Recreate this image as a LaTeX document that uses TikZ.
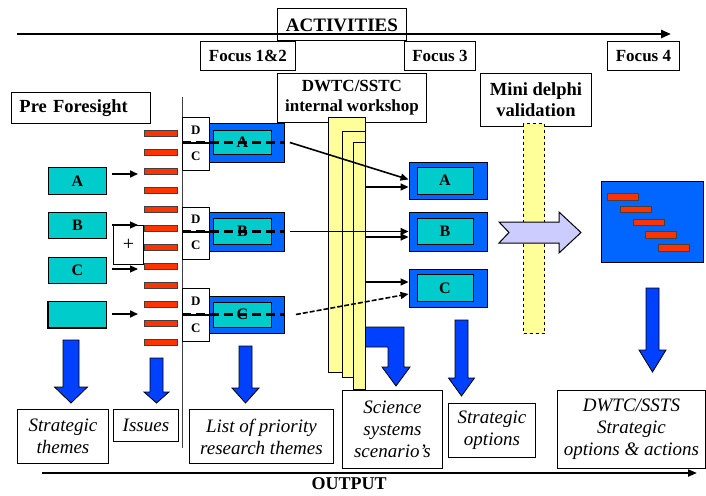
\documentclass[tikz,border=0pt]{standalone}
\usepackage{fontspec}
\setmainfont{Liberation Serif}
\usetikzlibrary{arrows.meta,positioning}

\definecolor{frameblue}{HTML}{0066FF}
\definecolor{arrowblue}{HTML}{0040FF}
\definecolor{themecyan}{HTML}{00CCCC}
\definecolor{issuered}{HTML}{FF3300}
\definecolor{paleyellow}{HTML}{FFFF99}
\definecolor{lavender}{HTML}{CCCCFF}

\tikzset{
  lbl/.style={draw, fill=white, line width=0.9pt, inner sep=0pt, align=center,
    font=\fontsize{17}{20}\selectfont\bfseries},
  outbox/.style={draw, fill=white, line width=0.9pt, inner sep=0pt, align=center,
    font=\fontsize{19}{22}\selectfont\itshape},
  theme/.style={draw, fill=themecyan, line width=0.9pt, inner sep=0pt,
    font=\fontsize{16}{18}\selectfont\bfseries},
  frame/.style={draw, fill=frameblue, line width=0.9pt, inner sep=0pt},
  issue/.style={draw=black!75, fill=issuered, line width=0.6pt, inner sep=0pt,
    minimum width=33pt, minimum height=6pt},
  dcbox/.style={draw, fill=white, line width=0.8pt, inner sep=0pt, minimum width=27pt,
    font=\fontsize{13}{14}\selectfont\bfseries},
  page/.style={draw, fill=paleyellow, line width=0.6pt, inner sep=0pt},
  conn/.style={-{Triangle[length=8pt,width=7pt]}, line width=1.6pt},
  thinconn/.style={-{Triangle[length=8pt,width=7pt]}, line width=1.1pt},
  strike/.style={line width=3pt, dash pattern=on 9pt off 5pt},
}

% block arrow pointing down: centre x, top, head start, tip, half shaft, half head
\newcommand{\dnarrow}[6]{%
  \filldraw[fill=arrowblue, line width=0.8pt]
    (#1-#5,#2) -- (#1+#5,#2) -- (#1+#5,#3) -- (#1+#6,#3) -- (#1,#4)
    -- (#1-#6,#3) -- (#1-#5,#3) -- cycle;}

\begin{document}
\begin{tikzpicture}[x=1pt, y=-1pt]
  \useasboundingbox (0,0) rectangle (706,495);

  % Activities axis
  \node[lbl, minimum width=129pt, minimum height=32pt, anchor=north west,
    text height=15pt, text depth=0pt,
    font=\fontsize{19}{21}\selectfont\bfseries] (act) at (277,8) {ACTIVITIES};
  \coordinate (actL) at (17,34);
  \coordinate (actR) at (671,34);
  \draw[-{Triangle[length=10pt,width=8pt]}, line width=2.5pt] (actL) -- (actR);

  % Focus labels
  \node[lbl, minimum width=95pt, minimum height=29pt, anchor=north west] (f12) at (200,41) {Focus 1\&2};
  \node[lbl, minimum width=71pt, minimum height=29pt, anchor=north west] (f3) at (404,41) {Focus 3};
  \node[lbl, minimum width=72pt, minimum height=29pt, anchor=north west] (f4) at (607,41) {Focus 4};

  % Stage labels
  \node[lbl, text width=123pt, inner xsep=8pt, align=left, minimum height=31pt,
    font=\fontsize{18.5}{21}\selectfont\bfseries, anchor=north west] (pre) at (11,92) {Pre Foresight};
  \node[lbl, minimum width=149pt, minimum height=49pt, anchor=north west] (ws) at (277,73)
    {DWTC/SSTC\\internal workshop};
  \node[lbl, minimum width=111pt, minimum height=53pt, anchor=north west,
    font=\fontsize{18.5}{21}\selectfont\bfseries] (md) at (480,73)
    {Mini delphi\\validation};

  % Strategic themes
  \node[theme, minimum width=58pt, minimum height=27pt, anchor=north west] (tA) at (48,167) {A};
  \node[theme, minimum width=58pt, minimum height=26pt, anchor=north west] (tB) at (48,212) {B};
  \node[theme, minimum width=58pt, minimum height=26pt, anchor=north west] (tC) at (48,257) {C};
  \node[theme, minimum width=58pt, minimum height=26pt, anchor=north west] (tD) at (48,301) {};
  \draw[line width=2pt] (tD.north west) -- (tD.south west) -- (tD.south east);

  % Issues
  \foreach \y [count=\i] in {133,152,171,190,209,228,247,266,285,304,323,342}
    \node[issue] (i\i) at (160.5,\y) {};

  % themes feeding issues
  \node[draw, line width=0.8pt, minimum width=30pt, minimum height=39pt, anchor=north west,
    font=\fontsize{20}{20}\selectfont] (plus) at (113,225) {+};
  \coordinate (inA) at (138,174);
  \coordinate (inB) at (138,225);
  \coordinate (inC) at (138,269);
  \coordinate (inD) at (138,314);
  \draw[conn] ([xshift=5pt]tA.east |- inA) -- (inA);
  \draw[thinconn] ([xshift=5pt]tB.east |- inB) -- (inB);
  \draw[thinconn] ([xshift=5pt]tC.east |- inC) -- (inC);
  \draw[conn] ([xshift=5pt]tD.east |- inD) -- (inD);

  % Divider
  \coordinate (vtop) at (182,97);
  \coordinate (vbot) at (182,448);
  \draw[line width=1pt, black!75] (vtop) -- (vbot);

  % D/C tags
  \node[dcbox, minimum height=25pt, anchor=north west] (dA) at (182,117) {D};
  \node[dcbox, minimum height=27pt, below=0pt of dA] (cA) {C};
  \node[dcbox, minimum height=24pt, anchor=north west] (dB) at (182,207) {D};
  \node[dcbox, minimum height=27pt, below=0pt of dB] (cB) {C};
  \node[dcbox, minimum height=26pt, anchor=north west] (dC) at (182,288) {D};
  \node[dcbox, minimum height=26pt, below=0pt of dC] (cC) {C};

  % Priority research themes
  \node[frame, minimum width=75pt, minimum height=39pt, anchor=west] (lA) at (209,142.5) {};
  \node[theme, minimum width=58pt, minimum height=24pt] (lAi) at ([xshift=-4.5pt]lA.center) {A};
  \node[frame, minimum width=75pt, minimum height=39pt, anchor=west] (lB) at (209,231.5) {};
  \node[theme, minimum width=58pt, minimum height=26pt] (lBi) at ([xshift=-4.5pt]lB.center) {B};
  \node[frame, minimum width=75pt, minimum height=37pt, anchor=west] (lC) at (209,314.5) {};
  \node[theme, minimum width=58pt, minimum height=25pt] (lCi) at ([xshift=-4.5pt]lC.center) {C};
  \draw[strike] (vtop |- lA.west) -- (lA.east);
  \draw[strike] (vtop |- lB.west) -- (lB.east);
  \draw[strike] (vtop |- lC.west) -- (lC.east);

  % Scenario arrow (behind the workshop pages)
  \filldraw[fill=arrowblue, line width=0.8pt]
    (360,327) -- (404,327) -- (404,367) -- (410,367) -- (396,386)
    -- (382,367) -- (388,367) -- (388,347) -- (360,347) -- cycle;

  % Workshop pages
  \node[page, minimum width=37pt, minimum height=255pt, anchor=north west] (ws1) at (328,117) {};
  \node[page, minimum width=23pt, minimum height=246pt, anchor=north west] (ws2) at (342,131) {};
  \node[page, minimum width=12pt, minimum height=247pt, anchor=north west] (ws3) at (353,142) {};

  % Strategic options
  \node[frame, minimum width=78pt, minimum height=37pt] (rA) at (448,180.5) {};
  \node[theme, minimum width=56pt, minimum height=27pt] (rAi) at ([xshift=-3pt]rA.center) {A};
  \node[frame, minimum width=78pt, minimum height=39pt] (rB) at (448,231.5) {};
  \node[theme, minimum width=56pt, minimum height=26pt] (rBi) at ([xshift=-3pt]rB.center) {B};
  \node[frame, minimum width=78pt, minimum height=38pt] (rC) at (448,288) {};
  \node[theme, minimum width=56pt, minimum height=27pt] (rCi) at ([xshift=-3pt]rC.center) {C};

  \coordinate (rAin) at ([yshift=-6.5pt]rA.west);
  \coordinate (rBin) at ([yshift=-5.5pt]rB.west);
  \coordinate (rCup) at ([yshift=6pt]rC.west);
  \coordinate (rClo) at ([yshift=-6pt]rC.west);
  \draw[conn] ([xshift=5pt]lA.east) -- ([yshift=1pt]rA.west);
  \draw[conn] (ws3.east |- rAin) -- (rAin);
  \draw[conn] ([xshift=5pt]lB.east) -- (rB.west);
  \draw[conn] (ws3.east |- rBin) -- (rBin);
  \draw[conn] (ws3.east |- rCup) -- (rCup);
  \draw[conn, dash pattern=on 5pt off 2pt] ([xshift=11pt]lC.east) -- (rClo);

  % Mini delphi
  \node[draw, dashed, fill=paleyellow, line width=1.2pt, inner sep=0pt, minimum width=21pt,
    minimum height=210pt, anchor=north west] (mdb) at (523,123) {};
  \filldraw[fill=lavender, line width=1pt]
    (499,222) -- (559,222) -- (559,212) -- (581,232.5) -- (559,253)
    -- (559,243) -- (499,243) -- (509,232.5) -- cycle;

  % Action plan
  \node[frame, minimum width=102pt, minimum height=81pt, anchor=north west] (plan) at (601,181) {};
  \foreach \i in {0,...,4}
    \node[issue, minimum width=31pt, minimum height=6.5pt, anchor=north west] (p\i)
      at (607+12.8*\i,193+12.8*\i) {};

  % Down arrows
  \dnarrow{71}{340}{387}{403}{8}{16.5}
  \dnarrow{156.5}{358}{392}{403}{6.5}{12.5}
  \dnarrow{245.5}{346}{388}{403}{6.5}{13.5}
  \dnarrow{461.5}{320}{378}{396}{6.5}{13}
  \dnarrow{652.5}{288}{350}{372}{6.5}{13.5}

  % Outputs
  \node[outbox, minimum width=91pt, minimum height=54pt, anchor=north west] (sth) at (17,409)
    {Strategic\\themes};
  \node[outbox, minimum width=65pt, minimum height=32pt, anchor=north west] (iss) at (113,409)
    {Issues};
  \node[outbox, minimum width=144pt, minimum height=54pt, anchor=north west] (lst) at (189,409)
    {List of priority\\research themes};
  \node[outbox, minimum width=100pt, minimum height=78pt, anchor=north west] (sci) at (342,390)
    {Science\\systems\\scenario's};
  \node[outbox, minimum width=87pt, minimum height=54pt, anchor=north west] (sop) at (448,403)
    {Strategic\\options};
  \node[outbox, minimum width=148pt, minimum height=78pt, anchor=north west] (dws) at (557,390)
    {DWTC/SSTS\\Strategic\\options \& actions};

  % Output axis
  \coordinate (outL) at (42,473);
  \coordinate (outR) at (697,473);
  \draw[-{Triangle[length=9pt,width=7pt]}, line width=2pt] (outL) -- (outR);
  \node[font=\fontsize{18}{20}\selectfont\bfseries, inner sep=0pt] (outlbl) at (349,484) {OUTPUT};
\end{tikzpicture}
\end{document}
